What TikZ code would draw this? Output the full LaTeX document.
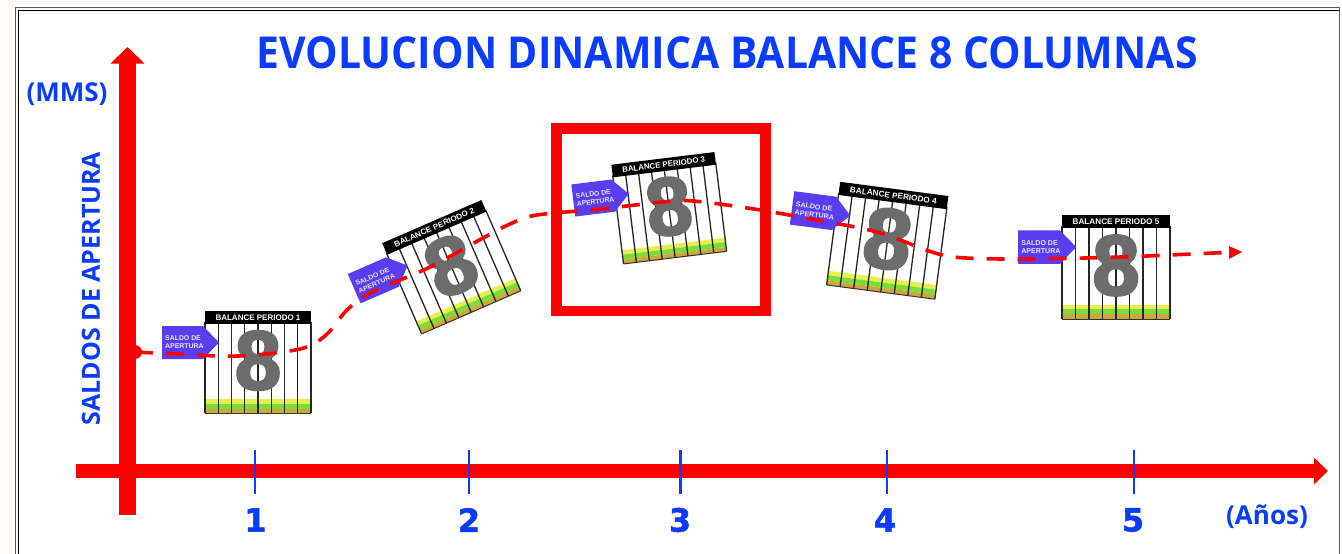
\documentclass[tikz,border=0pt]{standalone}
\usepackage{fontspec}
\setmainfont{Liberation Sans}
\newfontfamily\titlefont{Open Sans}
\newfontfamily\numfont[FakeBold=1.5]{DejaVu Sans Bold}
\newfontfamily\eightfont[FakeBold=2.5]{Liberation Sans Bold}
\usetikzlibrary{arrows.meta,calc}
\definecolor{axisred}{HTML}{FF0000}
\definecolor{labelblue}{HTML}{0A3CFF}
\definecolor{tagviolet}{HTML}{5B3DF0}
\definecolor{eightgray}{HTML}{6C6C6C}
\definecolor{bandyellow}{HTML}{E4F04E}
\definecolor{bandgreen}{HTML}{7EDB3C}
\definecolor{bandgold}{HTML}{C9A93A}
\definecolor{paper}{HTML}{FDFCFA}
\newcommand{\fsz}[1]{\fontsize{#1}{#1}\selectfont}
\tikzset{
  x=1pt,y=-1pt,
  axisline/.style={draw=axisred,line width=#1},
  tickmark/.style={draw=labelblue,line width=2.4pt},
  ticklabel/.style={text=labelblue,font=\numfont\fsz{32},inner sep=0pt},
  titlelabel/.style={text=labelblue,font=\titlefont\bfseries\fsz{#1},inner sep=0pt},
  pics/balancecard/.style={code={
    \fill[white] (-53,-51) rectangle (53,51);
    \fill[bandyellow] (-53,37) rectangle (53,41.5);
    \fill[bandgreen] (-53,41.5) rectangle (53,46.5);
    \fill[bandgold] (-53,46.5) rectangle (53,51);
    \foreach \k in {-4,...,4}{\draw[black!85,line width=1.3pt] (13.25*\k,-40) -- (13.25*\k,51);}
    \draw[black!80,line width=1pt] (-53,51) -- (53,51);
    \node[transform shape,text=eightgray,font=\eightfont\fsz{84},inner sep=0pt] (-eight) at (0,-1.5) {8};
    \fill[black] (-53,-51) rectangle (53,-38);
    \node[transform shape,text=white,font=\bfseries\fsz{8},inner sep=0pt] (-head) at (0,-44.5) {BALANCE PERIODO #1};
    \fill[tagviolet] (-96,-36) -- (-55,-36) -- (-39,-19.5) -- (-55,-3) -- (-96,-3) -- cycle;
    \node[transform shape,text=white!85!tagviolet,font=\bfseries\fsz{6.9},align=left,inner sep=0pt,anchor=west] (-tag) at (-93,-19.5) {SALDO DE\\[1.2pt]APERTURA};
  }}
}
\begin{document}
\begin{tikzpicture}
\useasboundingbox (0,0) rectangle (1342,554);
\fill[paper] (0,0) rectangle (1342,554);
\fill[white] (18,10) rectangle (1339,554);
\draw[black!65,line width=1pt] (15,560) -- (15,7.5) -- (1339,7.5) -- (1339,560);
\draw[black,line width=1.4pt] (18.5,560) -- (18.5,10.5) -- (1339,10.5);

% title and labels
\node[titlelabel=44,xscale=.93] (title) at (727,53) {EVOLUCION DINAMICA BALANCE 8 COLUMNAS};
\node[titlelabel=26] (mms) at (67,94) {(MMS)};
\node[titlelabel=25,rotate=90] (saldos) at (91,288.5) {SALDOS DE APERTURA};
\node[titlelabel=26] (anos) at (1267,517) {(Años)};

% highlight box
\draw[axisred,line width=10.5pt] (556.5,128.5) rectangle (765.5,311);

% axes
\coordinate (ybot) at (127.5,515);
\coordinate (ytop) at (127.5,47);
\coordinate (xleft) at (76,471);
\coordinate (xright) at (1328,471);
\draw[axisline=17pt,-{Triangle[length=16.5pt,width=33pt]}] (ybot) -- (ytop);
\draw[axisline=13.5pt,-{Triangle[length=14pt,width=26pt]}] (xleft) -- (xright);

% ticks
\foreach \n/\xx/\lx in {1/255/255.5,2/469/469,3/680.5/680,4/887/885,5/1134/1133}{
  \coordinate (t\n a) at (\xx,450);
  \coordinate (t\n b) at (\xx,494);
  \draw[tickmark] (t\n a) -- (t\n b);
  \node[ticklabel] (n\n) at (\lx,520) {\n};
}

% balance cards
\pic (c1) at (258,362) {balancecard={1}};
\pic[rotate=23.5,xscale=1.02,yscale=.97] (c2) at (451.5,267) {balancecard={2}};
\pic[rotate=7,xscale=.98,yscale=.98] (c3) at (669,208) {balancecard={3}};
\pic[rotate=-7.5,xscale=1.03,yscale=1.02] (c4) at (887.5,240.5) {balancecard={4}};
\pic[xscale=1.02,yscale=1.02] (c5) at (1116,267) {balancecard={5}};

% trend curve
\coordinate (cstart) at (135,352);
\coordinate (cneck) at (1230,252.5);
\coordinate (cend) at (1242,252);
\fill[axisred] (cstart) circle (7);
\draw[axisred,line width=3.6pt,dash pattern=on 18pt off 13pt]
  plot[smooth,tension=.55] coordinates {(cstart) (177,354) (238,356) (300,349) (326,335) (347,310) (372,292)
   (428,268) (483,238) (510,224) (537,215) (601,209) (662,202) (693,201) (754,209)
   (816,220) (877,232) (935,253) (966,258) (1028,259) (1121,257) (1214,253) (cneck)};
\fill[axisred] (cend) -- ($(cneck)+(-1,-6.5)$) -- ($(cneck)+(-1,6.5)$) -- cycle;
\end{tikzpicture}
\end{document}
